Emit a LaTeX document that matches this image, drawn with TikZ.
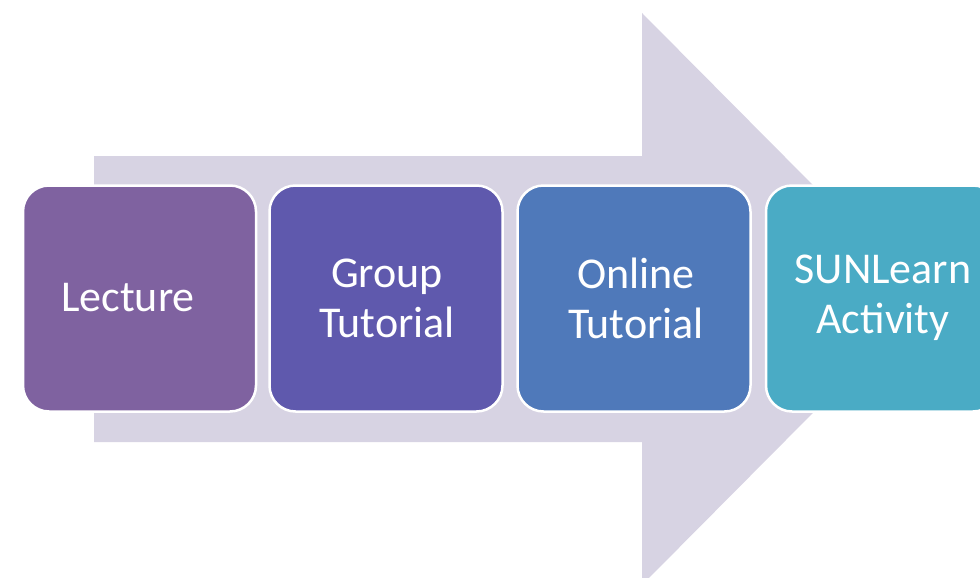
\documentclass[tikz,border=0pt]{standalone}
\usepackage{fontspec}
\setmainfont{Carlito}
\definecolor{arrowc}{HTML}{D7D3E3}
\definecolor{c1}{HTML}{7F62A0}
\definecolor{c2}{HTML}{5F59AD}
\definecolor{c3}{HTML}{4F79BA}
\definecolor{c4}{HTML}{4AABC5}
\tikzset{
  stepbox/.style={rectangle, rounded corners=26pt, draw=white, line width=2.5pt,
    minimum width=233pt, minimum height=226pt, inner sep=0pt},
  lbl/.style={text=white, align=center, font=\fontsize{44}{50}\selectfont, inner sep=0pt}
}
\begin{document}
\begin{tikzpicture}[x=1pt,y=-1pt]
\useasboundingbox (0,0) rectangle (980,578);
\clip (0,0) rectangle (980,578);
\fill[arrowc] (94,156) -- (642,156) -- (642,13) -- (926,299) -- (642,585) -- (642,442) -- (94,442) -- cycle;
\node[stepbox, fill=c1] (lecture) at (139.5,298.5) {};
\node[stepbox, fill=c2] (group) at (386,298.5) {};
\node[stepbox, fill=c3] (online) at (634,298.5) {};
\node[stepbox, fill=c4] (sun) at (882.5,298.5) {};
\node[lbl] (tlecture) at (128,298) {Lecture};
\node[lbl] (tgroup) at (387,298) {Group\\Tutorial};
\node[lbl] (tonline) at (636,298) {Online\\Tutorial};
\node[lbl] (tsun) at (883,298) {SUNLearn\\Activity};
\end{tikzpicture}
\end{document}
